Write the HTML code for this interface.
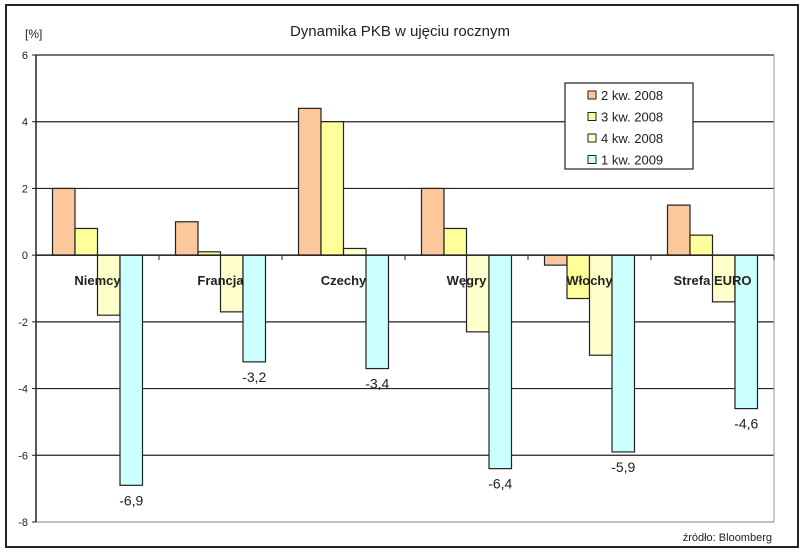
<!DOCTYPE html>
<html><head><meta charset="utf-8"><style>
body{margin:0;background:#fff}
svg{display:block;font-family:"Liberation Sans",Arial,sans-serif}
</style></head><body>
<svg id="chart" width="805" height="553" viewBox="0 0 805 553">
<rect x="6" y="5" width="792" height="542" fill="#fff" stroke="#222" stroke-width="2"/>
<text x="400" y="36" text-anchor="middle" font-size="15" fill="#222">Dynamika PKB w ujęciu rocznym</text>
<text x="25" y="38" font-size="12" fill="#222">[%]</text>
<g id="grid"></g><g id="bars"></g><g id="axes"></g><g id="labels"></g>
<g>
<rect x="565" y="83" width="128" height="86" fill="#fff" stroke="#222" stroke-width="1.2"/>
<g id="legend"></g>
</g>
<text x="772" y="541" text-anchor="end" font-size="11" fill="#222">źródło: Bloomberg</text>
</svg>
<script>
const categories=["Niemcy","Francja","Czechy","Węgry","Włochy","Strefa EURO"];
const seriesNames=["2 kw. 2008","3 kw. 2008","4 kw. 2008","1 kw. 2009"];
const q2_2008=[2.0,1.0,4.4,2.0,-0.3,1.5];
const q3_2008=[0.8,0.1,4.0,0.8,-1.3,0.6];
const q4_2008=[-1.8,-1.7,0.2,-2.3,-3.0,-1.4];
const q1_2009=[-6.9,-3.2,-3.4,-6.4,-5.9,-4.6];
const q1Labels=["-6,9","-3,2","-3,4","-6,4","-5,9","-4,6"];
const yTicks=[6,4,2,0,-2,-4,-6,-8];
const series=[q2_2008,q3_2008,q4_2008,q1_2009];
const colors=["#fcc89b","#ffff99","#ffffcc","#ccffff"];
const NS="http://www.w3.org/2000/svg";
const L=36,R=774,T=55,B=522,yMax=6,yMin=-8;
const y=v=>T+(yMax-v)*(B-T)/(yMax-yMin);
const gw=(R-L)/categories.length,bw=22.5;
const x=(c,s)=>L+gw*c+gw/2-2*bw+s*bw;
function mk(tag,attrs,parent){const e=document.createElementNS(NS,tag);for(const k in attrs)e.setAttribute(k,attrs[k]);document.getElementById(parent).appendChild(e);return e;}
yTicks.forEach(t=>{
  const g=mk("line",{x1:L,x2:R,y1:y(t),y2:y(t),stroke:t===yMin?"#999":"#222","stroke-width":1.2},"grid");
  
  
  const tk=mk("line",{x1:L-4,x2:L,y1:y(t),y2:y(t),stroke:"#222"},"axes");
  
  
  const tl=mk("text",{x:L-8,y:y(t)+4,"text-anchor":"end","font-size":11,fill:"#222"},"axes");
  tl.textContent=t;
  
  
});
series.forEach((vals,s)=>vals.forEach((v,c)=>{
  const r=mk("rect",{x:x(c,s),y:Math.min(y(v),y(0)),width:bw,height:Math.abs(y(v)-y(0)),fill:colors[s],stroke:"#222","stroke-width":1.2},"bars");
  
  
}));
const ax=mk("line",{x1:L,x2:L,y1:T,y2:B,stroke:"#222","stroke-width":1.5},"axes");


const ax2=mk("line",{x1:L,x2:R,y1:y(0),y2:y(0),stroke:"#222","stroke-width":1.5},"axes");


const rb=mk("line",{x1:R,x2:R,y1:T,y2:B,stroke:"#999","stroke-width":1},"axes");


for(let c=0;c<=categories.length;c++){
  const t=mk("line",{x1:L+gw*c,x2:L+gw*c,y1:y(0),y2:y(0)+5,stroke:"#222"},"axes");
  
  
}
categories.forEach((n,c)=>{
  const t=mk("text",{x:L+gw*c+gw/2,y:y(0)+30,"text-anchor":"middle","font-size":13,"font-weight":"bold",fill:"#222"},"labels");
  t.textContent=n;
  
  
  const v=mk("text",{x:x(c,3)+bw/2,y:y(q1_2009[c])+20,"text-anchor":"middle","font-size":14,fill:"#222"},"labels");
  v.textContent=q1Labels[c];
  
  
});
seriesNames.forEach((n,s)=>{
  const yy=95+s*21.5;
  const sw=mk("rect",{x:588,y:yy-4,width:8,height:8,fill:colors[s],stroke:"#222"},"legend");
  
  
  const t=mk("text",{x:601,y:yy+5,"font-size":13,fill:"#222"},"legend");
  t.textContent=n;
  
  
});
</script>
</body></html>
